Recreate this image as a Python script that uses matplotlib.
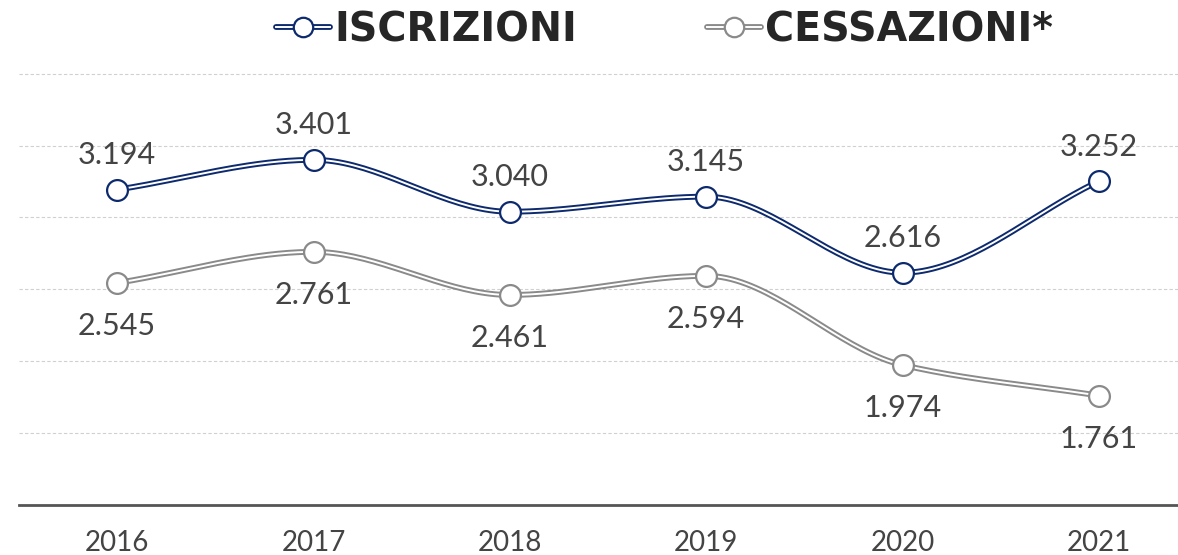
import numpy as np
import matplotlib
matplotlib.use("Agg")
import matplotlib.pyplot as plt
from matplotlib.lines import Line2D
from matplotlib.legend_handler import HandlerTuple

# dati
anni = ["2016", "2017", "2018", "2019", "2020", "2021"]
iscrizioni = [3194, 3401, 3040, 3145, 2616, 3252]
cessazioni = [2545, 2761, 2461, 2594, 1974, 1761]

BLU = "#0d2a6e"
GRIGIO = "#8a8a8a"
TESTO = "#444444"

plt.rcParams["font.family"] = ["Lato", "DejaVu Sans"]


def monotone(x, y, n=40):
    # interpolazione cubica monotona (tipo curveMonotoneX)
    x = np.asarray(x, float)
    y = np.asarray(y, float)
    h = np.diff(x)
    d = np.diff(y) / h
    m = np.zeros_like(y)
    m[0], m[-1] = d[0], d[-1]
    for i in range(1, len(y) - 1):
        if d[i - 1] * d[i] <= 0:
            m[i] = 0
        else:
            m[i] = 2 * d[i - 1] * d[i] / (d[i - 1] + d[i])
    xs, ys = [], []
    for i in range(len(y) - 1):
        t = np.linspace(0, 1, n)
        h00 = 2 * t**3 - 3 * t**2 + 1
        h10 = t**3 - 2 * t**2 + t
        h01 = -2 * t**3 + 3 * t**2
        h11 = t**3 - t**2
        xs.append(x[i] + t * h[i])
        ys.append(h00 * y[i] + h10 * h[i] * m[i] + h01 * y[i + 1] + h11 * h[i] * m[i + 1])
    return np.concatenate(xs), np.concatenate(ys)


fig = plt.figure(figsize=(11.78, 5.55), dpi=100)
ax = fig.add_axes([19 / 1178, 50 / 555, 1 - 19 / 1178, 432 / 555])

x = np.arange(len(anni))
handles = []
for serie, col, sopra in [(iscrizioni, BLU, True), (cessazioni, GRIGIO, False)]:
    xs, ys = monotone(x, serie)
    ax.plot(xs, ys, color=col, lw=4.2, solid_capstyle="round", zorder=3)
    ax.plot(xs, ys, color="white", lw=1.4, zorder=4)
    ax.plot(x, serie, ls="none", marker="o", ms=15, mfc="white", mec=col, mew=1.6, zorder=5)
    for xi, v in zip(x, serie):
        testo = f"{v / 1000:.3f}"
        off = 25 if sopra else -31
        ax.annotate(testo, (xi, v), xytext=(0, off), textcoords="offset points",
                    ha="center", va="center", fontsize=22, color=TESTO, zorder=6)
    h = (Line2D([], [], color=col, lw=4.2, solid_capstyle="round"),
         Line2D([], [], color="white", lw=1.4),
         Line2D([], [], ls="none", marker="o", ms=14, mfc="white", mec=col, mew=1.6))
    handles.append(h)

ax.set_xlim(-0.5, 5.5 - 19 / 196)
ax.set_ylim(1000, 4005)
ax.set_yticks([1500, 2000, 2500, 3000, 3500, 4000])
ax.set_xticks(x)
ax.set_xticklabels(anni)
ax.tick_params(axis="x", length=0, pad=18, labelsize=20, labelcolor=TESTO)
ax.tick_params(axis="y", length=0, labelleft=False)
ax.grid(axis="y", color="#d0d0d0", lw=0.8, ls=(0, (3, 2)))
ax.set_axisbelow(True)
for s in ["top", "right", "left"]:
    ax.spines[s].set_visible(False)
ax.spines["bottom"].set_color("#555555")
ax.spines["bottom"].set_linewidth(2)

leg = ax.legend(handles, ["ISCRIZIONI", "CESSAZIONI*"],
                handler_map={tuple: HandlerTuple(ndivide=1, pad=0)},
                loc="center", bbox_to_anchor=(0.557, 1.099), ncol=2, frameon=False,
                handlelength=1.35, handletextpad=0.1, columnspacing=3.3,
                prop={"family": "DejaVu Sans", "size": 28.5, "weight": "bold"})
for t in leg.get_texts():
    t.set_color("#262626")

fig.savefig("out.png", dpi=100)
